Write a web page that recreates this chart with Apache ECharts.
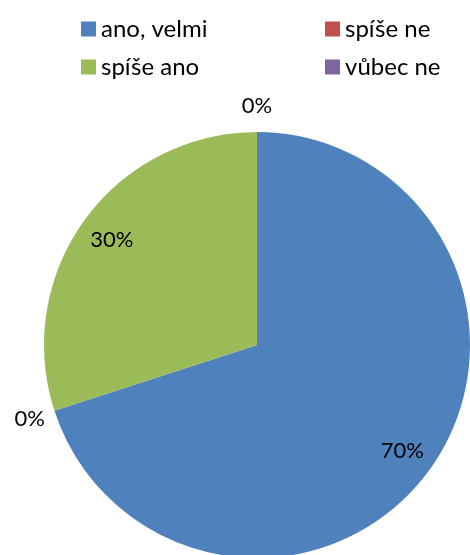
<!DOCTYPE html>
<html>
<head>
<meta charset="utf-8">
<script src="https://cdn.jsdelivr.net/npm/echarts@6/dist/echarts.min.js"></script>
<style>
  html, body { margin: 0; padding: 0; background: #fff; }
  #chart { width: 470px; height: 555px; }
</style>
</head>
<body>
<div id="chart"></div>
<script>
// poradi jako v puvodnim grafu (legenda se cte po radcich)
const categories = ['ano, velmi', 'spíše ne', 'spíše ano', 'vůbec ne'];
const values = [70, 0, 30, 0];
const colors = ['#4F81BD', '#C0504D', '#9BBB59', '#8064A2'];

const FONT = 'Lato';
const pieData = categories.map((name, i) => ({ name: name, value: values[i] }));

// popisky: nenulove uvnitr, nulove vne kruhu
function labelSeries(radius, showZero) {
    return {
        type: 'pie',
        center: [257, 345],
        radius: radius,
        silent: true,
        data: pieData,
        itemStyle: { color: 'transparent' },
        emphasis: { disabled: true },
        labelLine: { show: false },
        label: {
            show: true,
            position: 'inside',
            color: '#000',
            fontFamily: FONT,
            fontSize: 22,
            formatter: p => ((p.value === 0) === showZero ? p.percent + '%' : '')
        }
    };
}

const legendBase = {
    orient: 'vertical',
    top: 12,
    icon: 'rect',
    itemWidth: 15,
    itemHeight: 15,
    itemGap: 14,
    itemTextGap: 6,
    selectedMode: false,
    textStyle: { fontFamily: FONT, fontSize: 24, lineHeight: 24, color: '#000' }
};

const chart = echarts.init(document.getElementById('chart'));
chart.setOption({
    animation: false,
    color: colors,
    legend: [
        Object.assign({}, legendBase, { left: 76, data: [categories[0], categories[2]] }),
        Object.assign({}, legendBase, { left: 320, data: [categories[1], categories[3]] })
    ],
    series: [
        {
            type: 'pie',
            center: [257, 345],
            radius: 213,
            data: pieData,
            label: { show: false },
            labelLine: { show: false },
            emphasis: { disabled: true }
        },
        labelSeries([140, 213], false),
        labelSeries([213, 259], true)
    ]
});
</script>
</body>
</html>
